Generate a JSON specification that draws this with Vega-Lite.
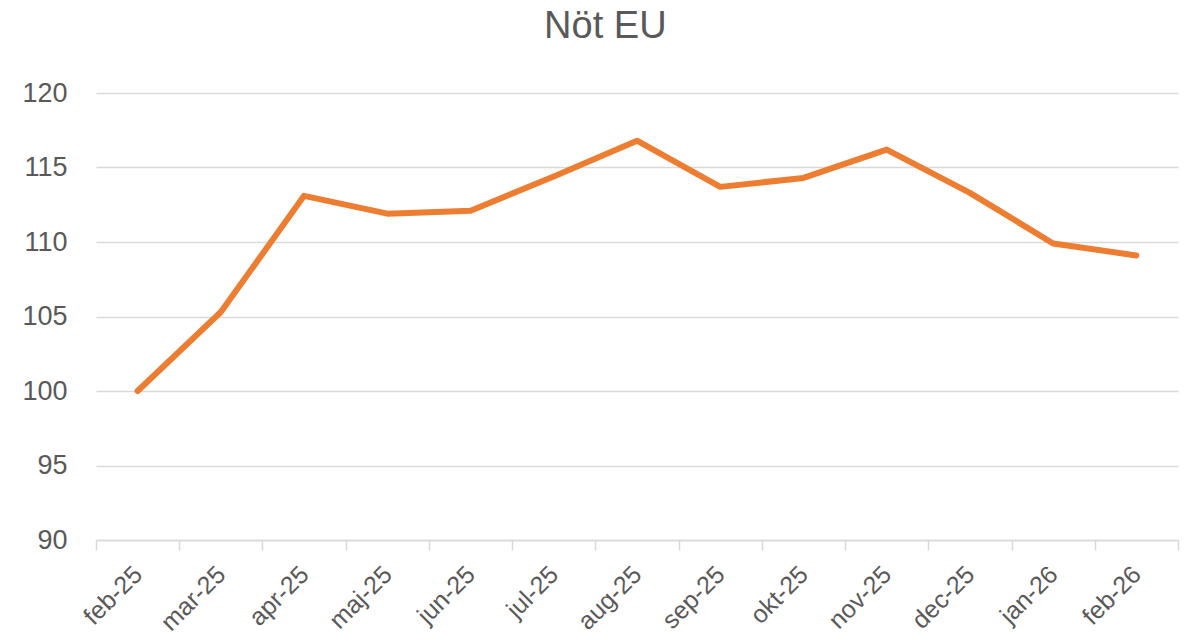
{
  "$schema": "https://vega.github.io/schema/vega-lite/v6.json",
  "width": 1082,
  "height": 447,
  "autosize": {"type": "none"},
  "padding": {"left": 96, "top": 93, "right": 14, "bottom": 98},
  "background": "white",
  "title": {
    "text": "Nöt EU",
    "font": "Liberation Sans",
    "fontSize": 38,
    "fontWeight": "normal",
    "color": "#595959",
    "anchor": "middle",
    "frame": "bounds",
    "offset": 33,
    "dx": 5
  },
  "config": {"view": {"stroke": null}},
  "data": {
    "values": [
      {"month": "feb-25", "value": 100.0},
      {"month": "mar-25", "value": 105.3},
      {"month": "apr-25", "value": 113.1},
      {"month": "maj-25", "value": 111.9},
      {"month": "jun-25", "value": 112.1},
      {"month": "jul-25", "value": 114.4},
      {"month": "aug-25", "value": 116.8},
      {"month": "sep-25", "value": 113.7},
      {"month": "okt-25", "value": 114.3},
      {"month": "nov-25", "value": 116.2},
      {"month": "dec-25", "value": 113.3},
      {"month": "jan-26", "value": 109.9},
      {"month": "feb-26", "value": 109.1}
    ]
  },
  "mark": {"type": "line", "color": "#ED7D31", "strokeWidth": 6, "strokeCap": "round", "strokeJoin": "round"},
  "encoding": {
    "x": {
      "field": "month",
      "type": "ordinal",
      "sort": null,
      "bandPosition": 0.5,
      "scale": {"type": "band", "paddingInner": 0, "paddingOuter": 0},
      "axis": {
        "title": null,
        "tickBand": "extent",
        "grid": false,
        "domainColor": "#d9d9d9",
        "domainWidth": 1.5,
        "tickColor": "#d9d9d9",
        "tickWidth": 1.5,
        "tickSize": 10,
        "labelAngle": -45,
        "labelAlign": "right",
        "labelBaseline": "middle",
        "labelFont": "Liberation Sans",
        "labelFontSize": 25,
        "labelColor": "#595959",
        "labelPadding": 20
      }
    },
    "y": {
      "field": "value",
      "type": "quantitative",
      "scale": {"domain": [90, 120], "nice": false, "zero": false},
      "axis": {
        "title": null,
        "values": [90, 95, 100, 105, 110, 115, 120],
        "domain": false,
        "ticks": false,
        "gridColor": "#d9d9d9",
        "gridWidth": 1.5,
        "labelFont": "Liberation Sans",
        "labelFontSize": 27,
        "labelColor": "#595959",
        "labelPadding": 29
      }
    }
  }
}
